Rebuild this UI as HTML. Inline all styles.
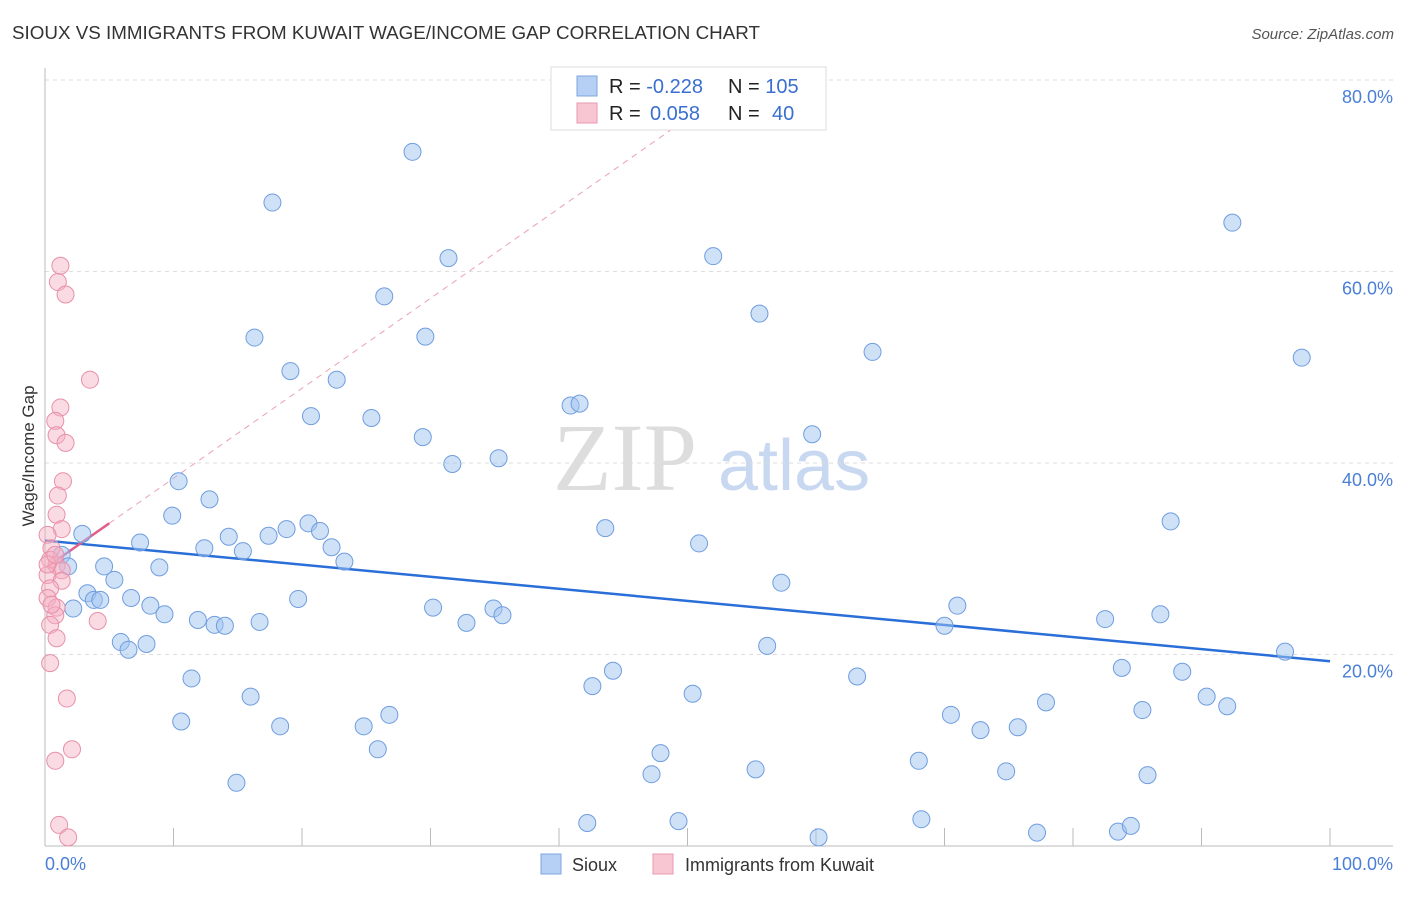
<!DOCTYPE html>
<html><head><meta charset="utf-8"><style>
body{margin:0;background:#fff;font-family:"Liberation Sans",sans-serif;}
svg text{font-family:"Liberation Sans",sans-serif;}
</style></head><body>
<svg id="chart" width="1406" height="892" xmlns="http://www.w3.org/2000/svg">
<text x="12" y="39" font-size="18" fill="#333" textLength="748" lengthAdjust="spacingAndGlyphs">SIOUX VS IMMIGRANTS FROM KUWAIT WAGE/INCOME GAP CORRELATION CHART</text>
<text x="1394" y="39" font-size="15" fill="#555" font-style="italic" text-anchor="end">Source: ZipAtlas.com</text>
<text x="553" y="490" font-size="96" fill="#ddd" font-family="Liberation Serif" style="font-family:'Liberation Serif',serif">ZIP</text>
<text x="718" y="490" font-size="72" fill="#c8d8f0">atlas</text>
<g id="grid"></g>
<g id="axes"></g>
<g id="trend"></g>
<g id="pts"></g>
<text transform="translate(34,456) rotate(-90)" font-size="17" fill="#333" text-anchor="middle">Wage/Income Gap</text>
<text x="45" y="870" font-size="18" fill="#4a7fd6">0.0%</text>
<text x="1393" y="870" font-size="18" fill="#4a7fd6" text-anchor="end">100.0%</text>
<g>
<rect x="551" y="67" width="275" height="63" fill="#fff" stroke="#ddd"/>
<rect x="577" y="76" width="20" height="20" fill="#b5cff5" stroke="#7ea6e0"/>
<rect x="577" y="103" width="20" height="20" fill="#f8c5d3" stroke="#e89ab0"/>
<text x="609" y="93" font-size="20" fill="#222">R = <tspan fill="#3a6fd0">-0.228</tspan></text>
<text x="728" y="93" font-size="20" fill="#222">N = <tspan fill="#3a6fd0">105</tspan></text>
<text x="609" y="120" font-size="20" fill="#222">R = <tspan fill="#3a6fd0" x="650">0.058</tspan></text>
<text x="728" y="120" font-size="20" fill="#222">N = <tspan fill="#3a6fd0" x="772">40</tspan></text>
</g>
<g>
<rect x="541" y="854" width="20" height="20" fill="#b5cff5" stroke="#7ea6e0"/>
<text x="572" y="871" font-size="18" fill="#333">Sioux</text>
<rect x="653" y="854" width="20" height="20" fill="#f8c5d3" stroke="#e89ab0"/>
<text x="685" y="871" font-size="18" fill="#333">Immigrants from Kuwait</text>
</g>
</svg>
<script>
const yTicks=[20,40,60,80];
const yTickLabels=["20.0%","40.0%","60.0%","80.0%"];
const xTicks=[0,10,20,30,40,50,60,70,80,90,100];
const siouxX=[28.6,17.7,92.4,31.4,52.0,26.4,55.6,16.3,29.6,64.4,97.8,19.1,22.7,20.7,25.4,40.9,41.6,29.4,59.7,31.7,35.3,10.4,12.8,9.9,2.9,43.6,87.6,7.4,12.4,14.3,15.4,17.4,18.8,20.5,21.4,22.3,23.3,50.9,1.3,1.8,4.6,8.9,5.4,3.3,3.8,4.3,6.7,8.2,9.3,2.2,19.7,30.2,34.9,35.6,32.8,11.9,13.2,14.0,16.7,57.3,71.0,70.0,82.5,86.8,5.9,6.5,7.9,56.2,96.5,83.8,88.5,11.4,63.2,44.2,42.6,50.4,16.0,90.4,92.0,85.4,77.9,10.6,18.3,24.8,26.8,70.5,72.8,75.7,25.9,47.9,47.2,55.3,68.0,74.8,85.8,14.9,42.2,49.3,68.2,60.2,77.2,83.5,84.5];
const siouxY=[72.5,67.2,65.1,61.4,61.6,57.4,55.6,53.1,53.2,51.6,51.0,49.6,48.7,44.9,44.7,46.0,46.2,42.7,43.0,39.9,40.5,38.1,36.2,34.5,32.6,33.2,33.9,31.7,31.1,32.3,30.8,32.4,33.1,33.7,32.9,31.2,29.7,31.6,30.4,29.2,29.2,29.1,27.8,26.4,25.7,25.7,25.9,25.1,24.2,24.8,25.8,24.9,24.8,24.1,23.3,23.6,23.1,23.0,23.4,27.5,25.1,23.0,23.7,24.2,21.3,20.5,21.1,20.9,20.3,18.6,18.2,17.5,17.7,18.3,16.7,15.9,15.6,15.6,14.6,14.2,15.0,13.0,12.5,12.5,13.7,13.7,12.1,12.4,10.1,9.7,7.5,8.0,8.9,7.8,7.4,6.6,2.4,2.6,2.8,0.9,1.4,1.5,2.1];
const kuwaitX=[1.2,1.0,1.6,3.5,1.2,0.8,0.9,1.6,1.4,1.0,0.9,1.3,0.2,0.5,0.4,0.9,1.3,0.2,1.3,0.4,0.2,0.9,0.8,4.1,0.4,0.9,0.4,1.7,2.1,0.8,1.1,1.8,0.5,0.2,0.8];
const kuwaitY=[60.6,58.9,57.6,48.7,45.8,44.4,42.9,42.1,38.1,36.6,34.6,33.1,32.5,31.1,29.9,29.3,28.8,28.3,27.7,26.9,25.9,24.9,24.1,23.5,23.1,21.7,19.1,15.4,10.1,8.9,2.2,0.9,25.2,29.4,30.4];
const siouxTrend=[31.9,19.3];
const kuwaitTrend=[29.0,0.94];
const NS="http://www.w3.org/2000/svg";
const X0=45,X1=1330,Y0=846,PY=9.575;
const sx=v=>X0+(X1-X0)*v/100, sy=v=>Y0-v*PY;
function mk(tag,attrs,parent){const e=document.createElementNS(NS,tag);for(const k in attrs)e.setAttribute(k,attrs[k]);parent.appendChild(e);return e;}
const grid=document.getElementById('grid'),axes=document.getElementById('axes'),trend=document.getElementById('trend'),pts=document.getElementById('pts');
yTicks.forEach((t,i)=>{
 const l=mk('line',{x1:X0,x2:1393,y1:sy(t),y2:sy(t),stroke:'#ddd','stroke-dasharray':'4,4'},grid);
 
 
 const tx=mk('text',{x:1393,y:sy(t)+23,'font-size':18,fill:'#4a7fd6','text-anchor':'end'},grid);
 tx.textContent=yTickLabels[i];
 
 
});
const al=mk('line',{x1:X0,x2:X0,y1:68,y2:Y0,stroke:'#bbb'},axes);


const bl=mk('line',{x1:X0,x2:1393,y1:Y0,y2:Y0,stroke:'#bbb'},axes);


xTicks.forEach(t=>{
 const l=mk('line',{x1:sx(t),x2:sx(t),y1:828,y2:Y0,stroke:'#bbb'},axes);
 
 
});
const bt=mk('line',{x1:sx(0),y1:sy(siouxTrend[0]),x2:sx(100),y2:sy(siouxTrend[1]),stroke:'#2a6ed8','stroke-width':2.5},trend);


const kd=mk('line',{x1:sx(5),y1:sy(kuwaitTrend[0]+kuwaitTrend[1]*5),x2:sx(52),y2:sy(kuwaitTrend[0]+kuwaitTrend[1]*52),stroke:'#eaa0b5','stroke-width':1,'stroke-dasharray':'6,5'},trend);


const ks=mk('line',{x1:sx(0.2),y1:sy(kuwaitTrend[0]+kuwaitTrend[1]*0.2),x2:sx(5),y2:sy(kuwaitTrend[0]+kuwaitTrend[1]*5),stroke:'#e0608a','stroke-width':2.5},trend);


siouxX.forEach((x,i)=>{
 const c=mk('circle',{cx:sx(x),cy:sy(siouxY[i]),r:8.5,fill:'rgba(160,195,240,0.5)',stroke:'#6f9de0','stroke-width':1},pts);
 
 
});
kuwaitX.forEach((x,i)=>{
 const c=mk('circle',{cx:sx(x),cy:sy(kuwaitY[i]),r:8.5,fill:'rgba(245,175,195,0.45)',stroke:'#e890a8','stroke-width':1},pts);
 
 
});
</script>
</body></html>
